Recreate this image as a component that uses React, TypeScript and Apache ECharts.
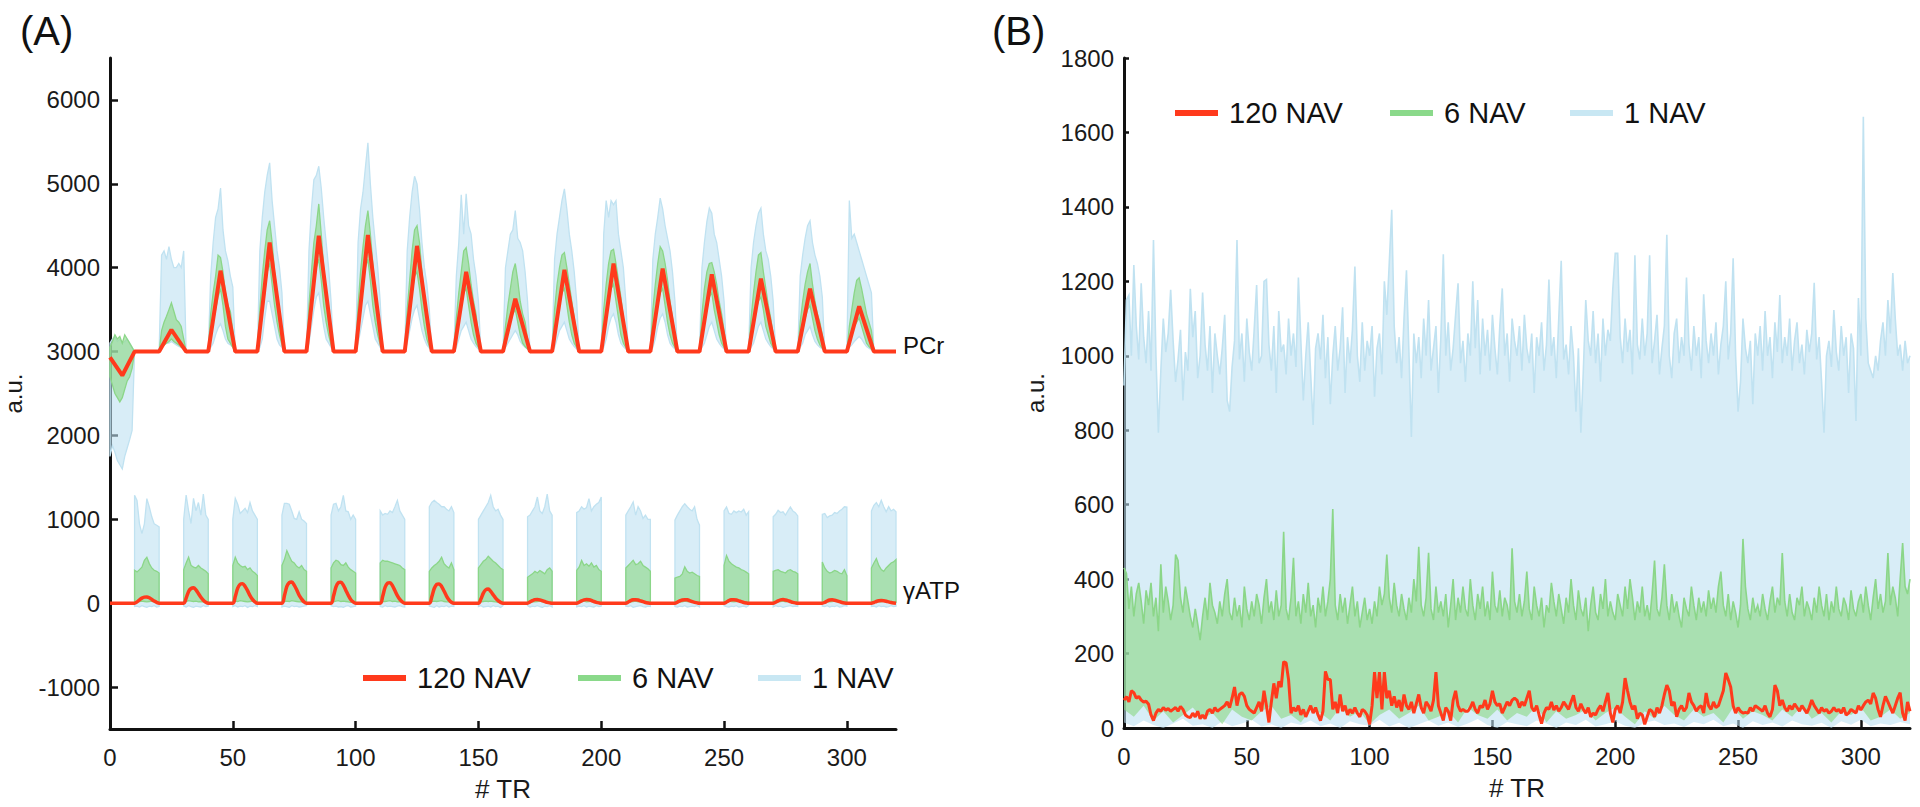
import React, { useEffect, useRef } from "react";
import * as echarts from "echarts";

// ---------- shared ticks ----------
const X_TICKS = [0, 50, 100, 150, 200, 250, 300];
const A_Y_TICKS = [-1000, 0, 1000, 2000, 3000, 4000, 5000, 6000];
const B_Y_TICKS = [0, 200, 400, 600, 800, 1000, 1200, 1400, 1600, 1800];
const LEGEND_NAMES = ["120 NAV", "6 NAV", "1 NAV"];

// ---------- Panel A : PCr (blocks, values at TR = start + offset) ----------
const PCR_STARTS = [0, 20, 40, 60, 80, 100, 120, 140, 160, 180, 200, 220, 240, 260, 280, 300];
const PCR_BLUE_UP = [
  [3100, 3150, 3180, 3120, 3150, 3100, 3120, 3150, 3100, 3050, 3000],
  [3000, 4150, 4200, 4100, 4250, 4100, 4000, 4000, 4050, 4000, 4200, 3000],
  [3000, 3900, 4300, 4600, 4700, 4950, 4450, 4200, 4080, 3900, 3770, 3000],
  [3000, 4200, 4600, 4900, 5100, 5250, 4800, 4500, 4200, 4000, 3700, 3000],
  [3000, 4200, 4700, 5050, 5100, 5210, 4950, 4600, 4300, 4000, 3600, 3000],
  [3000, 4300, 4700, 4900, 5200, 5490, 5000, 4600, 4300, 4000, 3600, 3000],
  [3000, 4200, 4600, 4900, 5090, 5000, 4700, 4300, 4000, 3800, 3500, 3000],
  [3000, 3900, 4300, 4870, 4400, 4880, 4500, 4400, 4100, 3900, 3600, 3000],
  [3000, 4000, 4200, 4400, 4450, 4680, 4350, 4300, 4200, 3950, 3600, 3000],
  [3000, 4100, 4400, 4600, 4800, 4940, 4700, 4400, 4200, 3950, 3600, 3000],
  [3000, 4400, 4800, 4600, 4800, 4750, 4800, 4400, 4200, 4000, 3600, 3000],
  [3000, 4100, 4400, 4600, 4830, 4700, 4500, 4350, 4200, 3950, 3600, 3000],
  [3000, 4000, 4300, 4550, 4710, 4650, 4400, 4300, 4100, 3900, 3600, 3000],
  [3000, 4000, 4300, 4500, 4650, 4710, 4400, 4200, 4100, 3900, 3600, 3000],
  [3000, 3900, 4150, 4350, 4500, 4560, 4300, 4150, 4050, 3900, 3650, 3000],
  [3000, 4800, 4350, 4400, 4300, 4200, 4100, 4000, 3900, 3800, 3700, 3000],
];
const PCR_BLUE_LO = [
  [1750, 1880, 1800, 1700, 1650, 1600, 1750, 1850, 1950, 2060, 3000],
  [3000, 3050, 3080, 3100, 3100, 3120, 3100, 3080, 3060, 3050, 3040, 3000],
  [3000, 3050, 3100, 3200, 3280, 3330, 3250, 3150, 3100, 3080, 3050, 3000],
  [3000, 3050, 3150, 3400, 3600, 3600, 3450, 3300, 3150, 3080, 3050, 3000],
  [3000, 3100, 3300, 3500, 3650, 3700, 3500, 3300, 3150, 3100, 3050, 3000],
  [3000, 3100, 3250, 3400, 3550, 3600, 3450, 3300, 3150, 3100, 3050, 3000],
  [3000, 3100, 3250, 3400, 3500, 3550, 3400, 3250, 3150, 3080, 3040, 3000],
  [3000, 3050, 3150, 3250, 3300, 3350, 3250, 3150, 3100, 3060, 3030, 3000],
  [3000, 3050, 3100, 3150, 3200, 3250, 3200, 3120, 3080, 3050, 3030, 3000],
  [3000, 3050, 3150, 3250, 3300, 3350, 3250, 3150, 3100, 3060, 3030, 3000],
  [3000, 3050, 3150, 3300, 3400, 3450, 3350, 3200, 3100, 3060, 3030, 3000],
  [3000, 3050, 3150, 3300, 3400, 3450, 3350, 3200, 3100, 3060, 3030, 3000],
  [3000, 3050, 3100, 3200, 3300, 3350, 3250, 3150, 3100, 3060, 3030, 3000],
  [3000, 3050, 3100, 3200, 3300, 3350, 3250, 3150, 3100, 3060, 3030, 3000],
  [3000, 3050, 3100, 3200, 3250, 3300, 3200, 3120, 3080, 3050, 3030, 3000],
  [3000, 3050, 3080, 3120, 3150, 3180, 3150, 3100, 3060, 3040, 3020, 3000],
];
const PCR_GREEN_UP = [
  [3050, 3120, 3200, 3150, 3180, 3100, 3200, 3150, 3100, 3050, 3000],
  [3000, 3250, 3350, 3420, 3500, 3580, 3480, 3380, 3350, 3300, 3150, 3000],
  [3000, 3450, 3700, 3900, 4150, 4120, 3950, 3700, 3550, 3480, 3250, 3000],
  [3000, 3500, 3900, 4200, 4450, 4560, 4300, 3950, 3700, 3450, 3200, 3000],
  [3000, 3550, 3950, 4300, 4500, 4760, 4400, 4000, 3700, 3450, 3200, 3000],
  [3000, 3550, 3950, 4250, 4500, 4680, 4400, 4050, 3700, 3450, 3200, 3000],
  [3000, 3500, 3850, 4200, 4450, 4500, 4300, 3950, 3650, 3400, 3200, 3000],
  [3000, 3400, 3700, 3950, 4200, 4240, 4050, 3800, 3600, 3450, 3200, 3000],
  [3000, 3300, 3550, 3750, 3950, 4050, 3850, 3600, 3450, 3350, 3150, 3000],
  [3000, 3500, 3800, 4000, 4150, 4180, 4000, 3800, 3600, 3400, 3200, 3000],
  [3000, 3500, 3800, 4050, 4200, 4220, 4050, 3850, 3650, 3400, 3200, 3000],
  [3000, 3500, 3800, 4050, 4250, 4200, 4050, 3850, 3600, 3400, 3200, 3000],
  [3000, 3450, 3750, 3950, 4050, 4060, 3950, 3800, 3600, 3450, 3250, 3000],
  [3000, 3400, 3700, 3950, 4150, 4180, 3950, 3750, 3550, 3400, 3200, 3000],
  [3000, 3350, 3600, 3800, 3950, 4050, 3800, 3600, 3450, 3350, 3200, 3000],
  [3000, 3300, 3500, 3700, 3850, 3880, 3750, 3600, 3450, 3350, 3250, 3000],
];
const PCR_GREEN_LO = [
  [2700, 2600, 2500, 2450, 2400, 2450, 2550, 2650, 2700, 2800, 3000],
  [3000, 3050, 3080, 3100, 3120, 3150, 3120, 3100, 3080, 3050, 3030, 3000],
  [3000, 3150, 3350, 3500, 3650, 3750, 3550, 3300, 3150, 3100, 3050, 3000],
  [3000, 3200, 3450, 3700, 3950, 4050, 3800, 3550, 3350, 3200, 3080, 3000],
  [3000, 3200, 3500, 3800, 4000, 4100, 3850, 3550, 3350, 3200, 3080, 3000],
  [3000, 3200, 3500, 3800, 4000, 4100, 3850, 3550, 3350, 3200, 3080, 3000],
  [3000, 3200, 3450, 3700, 3900, 3950, 3750, 3500, 3300, 3150, 3060, 3000],
  [3000, 3150, 3350, 3550, 3700, 3750, 3550, 3350, 3200, 3100, 3050, 3000],
  [3000, 3100, 3250, 3350, 3450, 3500, 3350, 3200, 3100, 3060, 3030, 3000],
  [3000, 3150, 3350, 3550, 3700, 3750, 3550, 3350, 3200, 3100, 3050, 3000],
  [3000, 3150, 3400, 3600, 3750, 3800, 3600, 3400, 3200, 3100, 3050, 3000],
  [3000, 3150, 3400, 3550, 3700, 3750, 3550, 3350, 3200, 3100, 3050, 3000],
  [3000, 3150, 3350, 3500, 3650, 3700, 3500, 3350, 3200, 3100, 3050, 3000],
  [3000, 3150, 3350, 3500, 3600, 3650, 3500, 3300, 3200, 3100, 3050, 3000],
  [3000, 3100, 3250, 3400, 3500, 3550, 3400, 3250, 3150, 3080, 3040, 3000],
  [3000, 3080, 3200, 3300, 3350, 3400, 3300, 3200, 3100, 3060, 3030, 3000],
];
// 120 NAV PCr mean: polyline vertices [TR, a.u.]
const PCR_MEAN_PTS = [
  [0, 2930], [5, 2715], [10, 3000], [20, 3000], [25, 3260], [31, 3000],
  [40, 3000], [45, 3964], [51, 3000], [60, 3000], [65, 4300], [71, 3000],
  [80, 3000], [85, 4380], [91, 3000], [100, 3000], [105, 4390], [111, 3000],
  [120, 3000], [125, 4260], [131, 3000], [140, 3000], [145, 3950], [151, 3000],
  [160, 3000], [165, 3630], [171, 3000], [180, 3000], [185, 3975], [191, 3000],
  [200, 3000], [205, 4050], [211, 3000], [220, 3000], [225, 3990], [231, 3000],
  [240, 3000], [245, 3920], [251, 3000], [260, 3000], [265, 3870], [271, 3000],
  [280, 3000], [285, 3750], [291, 3000], [300, 3000], [305, 3540], [311, 3000],
  [320, 3000],
];

// ---------- Panel A : gammaATP blocks ----------
const GATP_STARTS = [10, 30, 50, 70, 90, 110, 130, 150, 170, 190, 210, 230, 250, 270, 290, 310];
const GATP_BLUE_UP = [
  [1286, 1226, 946, 830, 946, 1246, 1147, 1030, 946, 930, 909],
  [1000, 1290, 1100, 950, 1250, 1100, 1200, 1050, 1300, 1050, 1000],
  [1000, 1250, 1180, 1070, 1100, 1130, 1080, 1200, 1100, 1050, 1000],
  [1050, 1190, 1190, 1180, 1100, 1010, 1000, 1090, 1000, 980, 950],
  [1050, 1180, 1190, 1100, 1150, 1286, 1100, 1090, 1000, 1050, 1000],
  [1100, 1050, 1070, 1060, 1100, 1080, 1150, 1226, 1100, 1050, 1000],
  [1150, 1200, 1226, 1200, 1180, 1150, 1150, 1120, 1100, 1150, 1080],
  [1000, 1050, 1100, 1150, 1200, 1286, 1150, 1100, 1120, 1050, 1000],
  [1030, 1050, 1100, 1150, 1266, 1100, 1070, 1150, 1300, 1100, 1050],
  [1080, 1100, 1150, 1120, 1140, 1246, 1100, 1150, 1180, 1200, 1266],
  [1050, 1100, 1150, 1206, 1050, 1150, 1100, 1010, 1050, 1000, 1000],
  [990, 1050, 1100, 1150, 1186, 1150, 1120, 1100, 1150, 1000, 930],
  [1100, 1147, 1070, 1060, 1100, 1080, 1100, 1087, 1120, 1050, 1090],
  [1030, 1060, 1107, 1080, 1090, 1050, 1100, 1147, 1100, 1080, 1040],
  [1060, 1070, 1020, 1040, 1050, 1080, 1070, 1100, 1120, 1150, 1147],
  [1100, 1167, 1200, 1150, 1226, 1150, 1090, 1150, 1100, 1120, 1090],
];
const GATP_BLUE_LO = [
  [-40, -35, -45, -30, -40, -50, -35, -40, -30, -45, -40],
  [-35, -45, -30, -40, -50, -35, -40, -45, -30, -40, -35],
  [-40, -30, -45, -35, -40, -30, -50, -35, -40, -30, -40],
  [-45, -35, -40, -50, -30, -40, -35, -45, -40, -35, -30],
  [-30, -40, -35, -45, -40, -50, -35, -30, -45, -40, -35],
  [-40, -45, -30, -40, -35, -40, -45, -35, -30, -40, -45],
  [-35, -40, -50, -30, -45, -35, -40, -30, -45, -35, -40],
  [-40, -30, -45, -40, -35, -45, -30, -40, -35, -50, -30],
  [-30, -45, -35, -40, -30, -40, -50, -35, -40, -30, -45],
  [-45, -35, -40, -30, -45, -35, -40, -45, -30, -40, -35],
  [-35, -40, -30, -50, -40, -35, -30, -40, -45, -35, -40],
  [-40, -45, -35, -40, -30, -45, -40, -35, -40, -30, -45],
  [-30, -40, -45, -35, -40, -30, -45, -40, -35, -45, -30],
  [-45, -30, -40, -35, -50, -40, -35, -30, -40, -35, -40],
  [-35, -40, -30, -45, -35, -40, -30, -45, -40, -30, -35],
  [-40, -35, -45, -30, -40, -35, -45, -40, -30, -40, -35],
];
const GATP_GREEN_UP = [
  [393, 373, 400, 430, 512, 548, 472, 420, 393, 380, 360],
  [400, 480, 548, 450, 430, 420, 450, 420, 400, 380, 350],
  [450, 548, 480, 450, 430, 440, 400, 420, 380, 360, 330],
  [450, 520, 626, 560, 500, 480, 440, 420, 450, 400, 380],
  [420, 480, 512, 500, 460, 450, 480, 430, 400, 380, 360],
  [480, 512, 500, 500, 490, 480, 470, 460, 450, 420, 400],
  [380, 420, 450, 470, 500, 548, 470, 440, 420, 480, 400],
  [420, 460, 500, 520, 560, 530, 500, 480, 450, 420, 400],
  [310, 330, 350, 380, 360, 390, 370, 350, 400, 420, 380],
  [390, 430, 510, 450, 470, 440, 480, 430, 450, 400, 380],
  [420, 450, 480, 512, 460, 470, 500, 450, 430, 410, 380],
  [300, 310, 320, 350, 433, 380, 360, 370, 350, 330, 320],
  [450, 569, 500, 470, 450, 430, 420, 400, 390, 370, 350],
  [380, 390, 400, 380, 370, 360, 390, 400, 380, 370, 350],
  [492, 420, 380, 360, 370, 390, 380, 360, 350, 400, 330],
  [420, 480, 532, 450, 400, 380, 420, 450, 480, 492, 520],
];
const GATP_GREEN_LO = [
  [10, 15, 20, 25, 20, 15, 20, 25, 15, 10, 10],
  [15, 20, 30, 25, 20, 25, 15, 20, 15, 10, 15],
  [10, 25, 20, 30, 25, 20, 15, 20, 25, 15, 10],
  [15, 20, 25, 20, 30, 25, 20, 15, 20, 10, 15],
  [10, 15, 25, 30, 20, 25, 20, 15, 10, 15, 10],
  [15, 20, 20, 25, 30, 20, 25, 15, 20, 10, 15],
  [10, 20, 25, 20, 25, 30, 20, 15, 15, 10, 10],
  [15, 15, 20, 25, 20, 25, 20, 15, 10, 15, 10],
  [10, 15, 20, 15, 20, 25, 15, 20, 15, 10, 15],
  [15, 10, 20, 25, 15, 20, 25, 15, 20, 10, 10],
  [10, 20, 15, 20, 25, 15, 20, 15, 10, 15, 10],
  [15, 15, 20, 15, 25, 20, 15, 20, 15, 10, 15],
  [10, 20, 25, 20, 15, 20, 25, 15, 10, 15, 10],
  [15, 10, 15, 20, 25, 15, 20, 20, 15, 10, 15],
  [10, 15, 20, 15, 20, 25, 15, 20, 15, 10, 10],
  [15, 20, 15, 20, 15, 25, 20, 15, 20, 15, 10],
];
const GATP_MEAN = [
  [0, 15, 40, 60, 72, 75, 65, 45, 25, 10, 0],
  [0, 60, 140, 175, 185, 160, 115, 70, 35, 12, 0],
  [0, 80, 180, 225, 232, 200, 150, 90, 45, 15, 0],
  [0, 90, 200, 245, 252, 215, 160, 95, 50, 15, 0],
  [0, 85, 195, 245, 250, 215, 155, 95, 45, 15, 0],
  [0, 80, 190, 240, 245, 210, 150, 90, 45, 15, 0],
  [0, 75, 175, 225, 230, 200, 145, 85, 40, 12, 0],
  [0, 50, 120, 160, 168, 140, 100, 60, 30, 10, 0],
  [0, 15, 30, 42, 45, 40, 30, 20, 10, 4, 0],
  [0, 12, 28, 40, 44, 40, 32, 20, 10, 4, 0],
  [0, 14, 30, 40, 42, 38, 28, 18, 8, 3, 0],
  [0, 12, 28, 38, 42, 40, 30, 18, 10, 4, 0],
  [0, 14, 30, 40, 42, 38, 28, 18, 8, 3, 0],
  [0, 12, 28, 40, 43, 38, 30, 20, 10, 4, 0],
  [0, 10, 26, 38, 40, 36, 28, 18, 8, 3, 0],
  [0, 8, 20, 28, 32, 30, 24, 16, 8, 3, 0],
];

// ---------- Panel B : per-TR values (TR 0..320) ----------
const B_BLUE_UPPER = [
  920, 1150, 1163, 1000, 1244, 1080, 990, 1195, 1050, 980, 1120, 960, 1311, 1000, 793, 960, 1100, 1010, 1060, 1177,
  1040, 930, 990, 1070, 880, 1010, 960, 1180, 1050, 1120, 940, 1000, 1170, 1030, 960, 1080, 900, 1060, 1000, 950,
  1020, 1110, 880, 850, 970, 1040, 1311, 990, 1060, 930, 1100, 1010, 960, 1070, 1190, 980, 1000, 1200, 1205, 1030,
  960, 1080, 900, 1120, 1010, 1030, 950, 1100, 1000, 1060, 970, 1210, 1040, 880, 1000, 1090, 950, 814, 1020, 1060,
  990, 1110, 940, 1050, 870, 1000, 1080, 960, 1020, 1130, 900, 1050, 980, 1070, 1240, 1000, 930, 1090, 960, 1040,
  1000, 1080, 890, 1020, 1060, 950, 1200, 1110, 1250, 1392, 1080, 980, 1050, 940, 1100, 1230, 1010, 782, 1060, 980,
  1050, 940, 1100, 1000, 1150, 960, 1020, 1080, 900, 1050, 1273, 1000, 1090, 960, 1020, 1110, 1195, 980, 1040, 930,
  1060, 1000, 1200, 1020, 1150, 950, 1100, 1000, 1070, 960, 1110, 1020, 950, 1080, 1181, 1000, 1060, 930, 1100, 1040,
  1000, 1080, 960, 1110, 1020, 980, 1060, 900, 1050, 1000, 1090, 960, 1030, 1205, 1000, 1050, 940, 1100, 1255, 990,
  1030, 950, 1080, 1000, 850, 1020, 793, 960, 1150, 1040, 1000, 1120, 980, 1060, 930, 1100, 1000, 1070, 1040, 1180,
  1275, 1275, 1050, 980, 1100, 1010, 1070, 950, 1270, 1030, 990, 1100, 1000, 1060, 1270, 980, 1040, 1110, 950, 1020,
  1080, 1325, 1000, 940, 1060, 1100, 980, 1050, 1000, 1210, 1030, 960, 1080, 1000, 1050, 940, 1165, 1040, 980, 1060,
  1000, 1090, 950, 1030, 1080, 1200, 990, 1060, 1262, 1000, 850, 930, 1100, 1020, 980, 1040, 870, 1060, 1000, 1080,
  960, 1120, 1000, 1050, 940, 1090, 1010, 1163, 980, 1050, 1000, 1100, 960, 1040, 1090, 980, 1030, 950, 1070, 1010,
  1060, 1196, 990, 1050, 930, 793, 1000, 1040, 970, 1123, 1010, 960, 1080, 1000, 1050, 900, 1060, 1020, 825, 1155,
  1000, 1642, 1100, 980, 960, 940, 1000, 960, 1040, 1090, 1000, 1150, 1060, 1222, 1100, 1000, 1030, 960, 1040, 980,
  1000,
];
const B_GREEN_UPPER = [
  430, 415, 320, 380, 300, 360, 390, 340, 280, 370, 330, 390, 300, 350, 260, 440, 310, 380, 340, 290,
  330, 466, 450, 350, 310, 380, 340, 300, 270, 320, 280, 236, 300, 350, 290, 390, 330, 310, 280, 340,
  300, 360, 400, 310, 290, 350, 300, 330, 270, 380, 320, 290, 340, 300, 360, 330, 280, 350, 400, 310,
  340, 290, 370, 300, 330, 527, 320, 290, 350, 457, 300, 340, 280, 360, 310, 390, 300, 330, 270, 350,
  310, 380, 300, 340, 400, 588, 330, 290, 360, 310, 350, 280, 330, 380, 300, 340, 270, 310, 350, 290,
  320, 280, 340, 300, 380, 330, 360, 466, 350, 310, 390, 330, 300, 360, 320, 290, 350, 310, 400, 340,
  487, 330, 300, 350, 471, 320, 290, 380, 310, 340, 300, 360, 270, 330, 400, 290, 350, 310, 380, 320,
  300, 400, 330, 290, 360, 320, 380, 300, 340, 290, 420, 330, 310, 370, 300, 350, 330, 290, 483, 340,
  310, 360, 300, 340, 420, 320, 290, 380, 330, 300, 350, 270, 330, 310, 390, 340, 300, 360, 320, 280,
  350, 310, 400, 330, 290, 370, 320, 300, 350, 260, 330, 380, 310, 290, 360, 320, 400, 300, 340, 310,
  290, 360, 330, 300, 380, 320, 400, 350, 290, 340, 310, 380, 300, 330, 290, 360, 450, 320, 300, 350,
  440, 330, 290, 360, 310, 340, 300, 270, 350, 320, 300, 380, 330, 290, 350, 310, 340, 300, 370, 320,
  350, 310, 380, 420, 330, 300, 360, 290, 340, 310, 270, 330, 508, 380, 320, 290, 350, 310, 330, 300,
  360, 320, 290, 340, 380, 310, 350, 330, 470, 340, 300, 360, 310, 290, 350, 330, 380, 300, 340, 320,
  290, 350, 310, 380, 330, 300, 360, 290, 340, 310, 380, 320, 300, 350, 330, 290, 370, 320, 300, 340,
  360, 310, 380, 330, 290, 350, 400, 320, 360, 310, 340, 470, 330, 380, 350, 300, 400, 497, 380, 360,
  400,
];
const B_RED = [
  75, 84, 70, 100, 95, 80, 85, 75, 70, 72, 64, 35, 20, 40, 50, 45, 55, 48, 52, 45,
  50, 55, 45, 58, 50, 35, 30, 28, 40, 30, 45, 25, 35, 25, 45, 50, 40, 55, 45, 50,
  55, 60, 70, 55, 80, 110, 60, 90, 95, 85, 60, 50, 45, 40, 55, 70, 45, 100, 60, 15,
  70, 120, 80, 125, 110, 178, 175, 130, 40, 55, 45, 60, 35, 50, 30, 45, 60, 40, 55, 35,
  20, 45, 152, 130, 130, 50, 70, 40, 90, 45, 60, 35, 50, 40, 55, 40, 30, 50, 45, 35,
  10, 60, 150, 80, 150, 50, 150, 80, 100, 60, 85, 55, 75, 45, 90, 60, 50, 70, 40, 65,
  90, 55, 40, 70, 60, 45, 75, 150, 60, 40, 20, 55, 45, 20, 74, 100, 60, 45, 50, 45,
  45, 55, 70, 50, 40, 60, 55, 75, 50, 65, 100, 70, 60, 65, 40, 55, 70, 60, 75, 80,
  75, 55, 70, 60, 80, 100, 55, 45, 60, 35, 12, 40, 55, 50, 70, 48, 60, 45, 55, 70,
  60, 50, 70, 88, 55, 45, 65, 50, 40, 55, 30, 40, 35, 50, 60, 45, 70, 94, 40, 15,
  50, 60, 40, 70, 134, 100, 70, 50, 60, 25, 40, 35, 10, 30, 50, 45, 30, 55, 40, 60,
  90, 115, 100, 60, 70, 30, 50, 60, 45, 55, 94, 70, 60, 45, 55, 60, 40, 94, 60, 50,
  70, 55, 60, 80, 100, 148, 130, 110, 60, 40, 55, 45, 40, 42, 40, 55, 45, 60, 55, 50,
  45, 60, 40, 30, 50, 115, 100, 60, 75, 55, 45, 60, 50, 65, 55, 45, 60, 50, 40, 55,
  75, 60, 50, 40, 55, 45, 50, 40, 45, 55, 45, 50, 40, 55, 35, 40, 50, 45, 40, 60,
  48, 60, 70, 75, 65, 94, 80, 50, 30, 60, 85, 70, 55, 40, 60, 80, 95, 40, 20, 70,
  45,
];
// lower band edges in panel B, one reading every 4 TR (TR 0, 4, ..., 320)
const B_LOWER_STEP = 4;
const B_BLUE_LOWER = [
  15, 5, 20, 8, 0, 12, 25, 6, 10,
  0, 18, 5, 12, 22, 4, 10, 0, 15,
  8, 20, 5, 12, 0, 18, 10, 6, 22,
  4, 14, 0, 10, 20, 6, 15, 3, 12,
  24, 8, 0, 16, 10, 5, 20, 12, 0,
  15, 8, 22, 4, 10, 18, 6, 0, 14,
  20, 8, 12, 3, 16, 10, 22, 5, 12,
  0, 18, 8, 15, 4, 20, 10, 6, 14,
  0, 18, 9, 22, 5, 12, 8, 16, 10,
];
const B_GREEN_LOWER = [
  50, 30, 60, 20, 45, 15, 35, 55, 25,
  40, 10, 50, 30, 20, 45, 60, 25, 35,
  15, 50, 40, 20, 55, 30, 45, 10, 35,
  50, 25, 40, 60, 20, 30, 45, 15, 55,
  35, 25, 50, 20, 40, 30, 60, 15, 45,
  25, 35, 50, 20, 40, 55, 30, 10, 45,
  25, 60, 35, 20, 50, 30, 40, 15, 55,
  25, 45, 35, 20, 50, 30, 60, 25, 40,
  15, 45, 35, 55, 20, 30, 50, 25, 40,
];

// ---------- styles ----------
const RED = "#ff3a1c";
const BLUE_FILL = "rgba(188,224,242,0.58)";
const BLUE_EDGE = "#c0e2f1";
const GREEN_FILL = "rgba(140,216,134,0.62)";
const GREEN_EDGE = "#8bd688";
const LEG_GREEN = "#8ad98a";
const LEG_BLUE = "#c8e7f3";
const FONT = "Liberation Sans";
const TXT = "#1a1a1a";

function blockBand(name: string, starts: number[], up: number[][], lo: number[][], fill: string, stroke: string, z: number) {
  return {
    type: "custom",
    name,
    xAxisIndex: 0,
    yAxisIndex: 0,
    z,
    silent: true,
    data: starts.map((s, i) => [s, i]),
    renderItem: (params: any, api: any) => {
      const i = params.dataIndex;
      const s = starts[i];
      const u = up[i];
      const l = lo[i];
      const pts: number[][] = [];
      for (let j = 0; j < u.length; j++) pts.push(api.coord([s + j, u[j]]));
      for (let j = l.length - 1; j >= 0; j--) pts.push(api.coord([s + j, l[j]]));
      return { type: "polygon", shape: { points: pts }, style: { fill, stroke, lineWidth: 1.3 } };
    },
  };
}

function fullBand(name: string, upper: number[], lower: number[], step: number, fill: string, stroke: string, z: number) {
  return {
    type: "custom",
    name,
    xAxisIndex: 1,
    yAxisIndex: 1,
    z,
    silent: true,
    data: [[0, 0]],
    renderItem: (params: any, api: any) => {
      const top = upper.map((v, i) => api.coord([i, v]));
      const bottom = lower.map((v, k) => api.coord([k * step, v])).reverse();
      return {
        type: "group",
        children: [
          { type: "polygon", shape: { points: top.concat(bottom) }, style: { fill, stroke: "none" } },
          { type: "polyline", shape: { points: top }, style: { fill: "none", stroke, lineWidth: 1.6 } },
        ],
      };
    },
  };
}

function blocksToLine(starts: number[], blocks: number[][], end: number) {
  const pts: number[][] = [[0, 0]];
  starts.forEach((s, i) => blocks[i].forEach((v, j) => pts.push([s + j, v])));
  if (pts[pts.length - 1][0] < end) pts.push([end, 0]);
  return pts;
}

const plainNumber = (v: number) => String(v);

function axisX(gridIndex: number) {
  return {
    gridIndex,
    type: "value",
    min: 0,
    max: 320,
    axisLine: { show: true, onZero: false, lineStyle: { color: "#111", width: 3 } },
    axisTick: { show: true, inside: true, length: 8, customValues: X_TICKS, lineStyle: { color: "#111", width: 2.5 } },
    axisLabel: { show: true, customValues: X_TICKS, formatter: plainNumber, margin: 16, fontSize: 24, color: TXT, fontFamily: FONT },
    splitLine: { show: false },
    name: "# TR",
    nameLocation: "middle",
    nameGap: 47,
    nameTextStyle: { fontSize: 26, color: TXT, fontFamily: FONT },
  };
}

function axisY(gridIndex: number, min: number, max: number, ticks: number[], tickLen: number, gap: number) {
  return {
    gridIndex,
    type: "value",
    min,
    max,
    axisLine: { show: true, onZero: false, lineStyle: { color: "#111", width: 3 } },
    axisTick: { show: true, inside: true, length: tickLen, customValues: ticks, lineStyle: { color: "#111", width: 2.5 } },
    axisLabel: { show: true, customValues: ticks, formatter: plainNumber, margin: 10, fontSize: 24, color: TXT, fontFamily: FONT },
    splitLine: { show: false },
    name: "a.u.",
    nameLocation: "middle",
    nameRotate: 90,
    nameGap: gap,
    nameTextStyle: { fontSize: 24, color: TXT, fontFamily: FONT },
  };
}

function legendGraphics(x0: number[], y: number) {
  const colors = [RED, LEG_GREEN, LEG_BLUE];
  const out: any[] = [];
  LEGEND_NAMES.forEach((n, i) => {
    out.push({ type: "line", silent: true, shape: { x1: x0[i], y1: y, x2: x0[i] + 43, y2: y }, style: { stroke: colors[i], lineWidth: 6 } });
    out.push({
      type: "text",
      silent: true,
      x: x0[i] + 54,
      y,
      style: { text: n, fontSize: 29, fontFamily: FONT, fill: "#111", verticalAlign: "middle", align: "left" },
    });
  });
  return out;
}

function buildOption(): any {
  return {
    animation: false,
    backgroundColor: "#ffffff",
    textStyle: { fontFamily: FONT },
    grid: [
      { left: 110, top: 58, width: 786, height: 671, outerBoundsMode: "none", containLabel: false },
      { left: 1124, top: 58, width: 786, height: 670, outerBoundsMode: "none", containLabel: false },
    ],
    xAxis: [axisX(0), axisX(1)],
    yAxis: [axisY(0, -1500, 6500, A_Y_TICKS, 8, 85), axisY(1, 0, 1800, B_Y_TICKS, 5, 77)],
    series: [
      blockBand("1 NAV PCr", PCR_STARTS, PCR_BLUE_UP, PCR_BLUE_LO, BLUE_FILL, BLUE_EDGE, 2),
      blockBand("1 NAV γATP", GATP_STARTS, GATP_BLUE_UP, GATP_BLUE_LO, BLUE_FILL, BLUE_EDGE, 2),
      blockBand("6 NAV PCr", PCR_STARTS, PCR_GREEN_UP, PCR_GREEN_LO, GREEN_FILL, GREEN_EDGE, 3),
      blockBand("6 NAV γATP", GATP_STARTS, GATP_GREEN_UP, GATP_GREEN_LO, GREEN_FILL, GREEN_EDGE, 3),
      {
        type: "line",
        name: "120 NAV PCr",
        xAxisIndex: 0,
        yAxisIndex: 0,
        z: 4,
        data: PCR_MEAN_PTS,
        showSymbol: false,
        symbol: "none",
        lineStyle: { color: RED, width: 4 },
        silent: true,
      },
      {
        type: "line",
        name: "120 NAV γATP",
        xAxisIndex: 0,
        yAxisIndex: 0,
        z: 4,
        data: blocksToLine(GATP_STARTS, GATP_MEAN, 320),
        showSymbol: false,
        symbol: "none",
        smooth: 0.3,
        lineStyle: { color: RED, width: 3.5 },
        silent: true,
      },
      fullBand("1 NAV", B_BLUE_UPPER, B_BLUE_LOWER, B_LOWER_STEP, BLUE_FILL, BLUE_EDGE, 2),
      fullBand("6 NAV", B_GREEN_UPPER, B_GREEN_LOWER, B_LOWER_STEP, GREEN_FILL, GREEN_EDGE, 3),
      {
        type: "line",
        name: "120 NAV",
        xAxisIndex: 1,
        yAxisIndex: 1,
        z: 4,
        data: B_RED.map((v, i) => [i, v]),
        showSymbol: false,
        symbol: "none",
        lineStyle: { color: RED, width: 3 },
        silent: true,
      },
    ],
    graphic: [
      { type: "text", silent: true, x: 20, y: 31, style: { text: "(A)", fontSize: 40, fontFamily: FONT, fill: "#111", verticalAlign: "middle" } },
      { type: "text", silent: true, x: 992, y: 31, style: { text: "(B)", fontSize: 40, fontFamily: FONT, fill: "#111", verticalAlign: "middle" } },
      { type: "text", silent: true, x: 903, y: 345, style: { text: "PCr", fontSize: 24, fontFamily: FONT, fill: "#111", verticalAlign: "middle" } },
      { type: "text", silent: true, x: 903, y: 590, style: { text: "γATP", fontSize: 24, fontFamily: FONT, fill: "#111", verticalAlign: "middle" } },
      ...legendGraphics([363, 578, 758], 678),
      ...legendGraphics([1175, 1390, 1570], 113),
    ],
  };
}

export default function App() {
  const ref = useRef<HTMLDivElement>(null);
  useEffect(() => {
    if (!ref.current) return;
    const chart = echarts.init(ref.current, null, { renderer: "svg" });
    chart.setOption(buildOption());
    return () => chart.dispose();
  }, []);
  return (
    <div
      ref={ref}
      style={{ position: "absolute", left: 0, top: 0, width: 1920, height: 807, background: "#fff" }}
    />
  );
}
